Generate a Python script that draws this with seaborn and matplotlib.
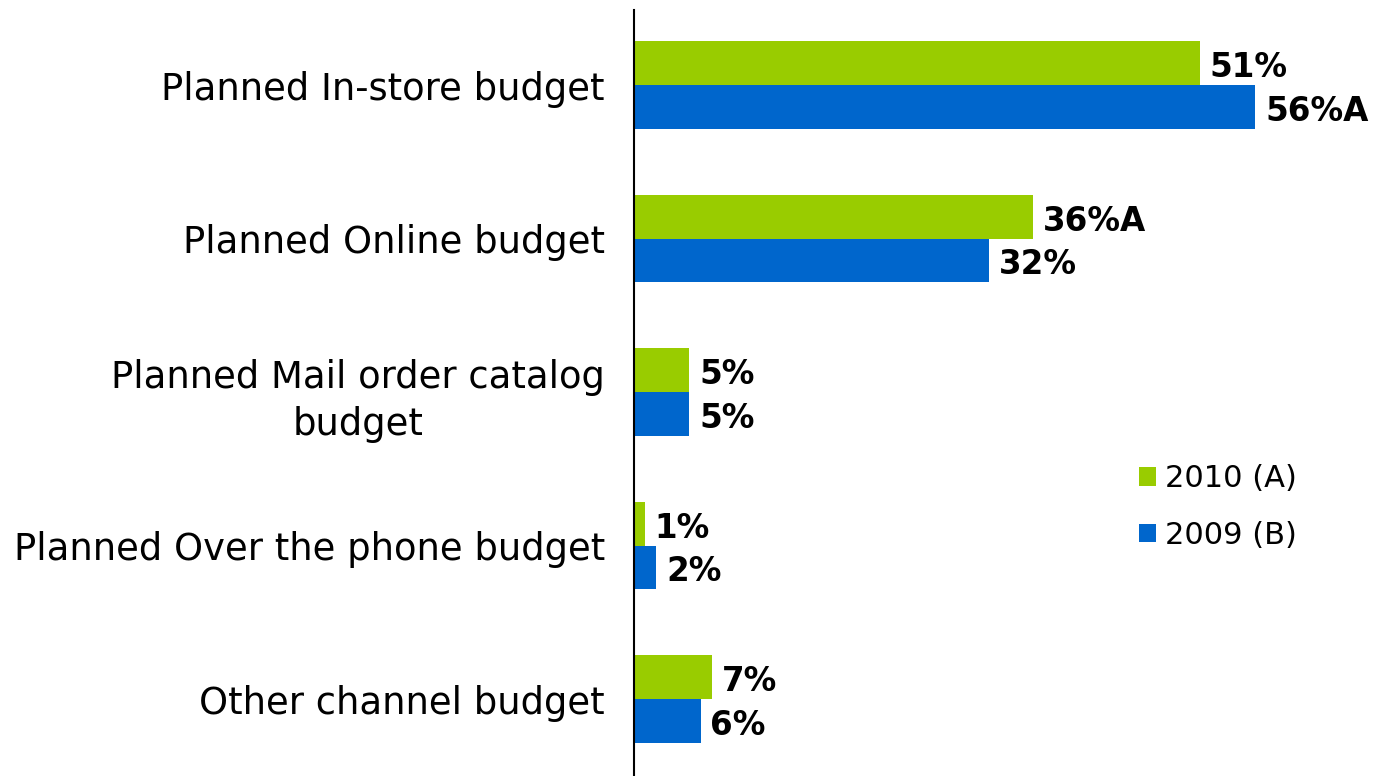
import matplotlib
matplotlib.use('Agg')
import matplotlib.pyplot as plt
import seaborn as sns
import pandas as pd

# chart data
channels = ['Planned In-store budget', 'Planned Online budget',
            'Planned Mail order catalog\nbudget', 'Planned Over the phone budget',
            'Other channel budget']
series = ['2010 (A)', '2009 (B)']
values_2010 = [51, 36, 5, 1, 7]
values_2009 = [56, 32, 5, 2, 6]
labels_2010 = ['51%', '36%A', '5%', '1%', '7%']
labels_2009 = ['56%A', '32%', '5%', '2%', '6%']

colors = ['#99CC00', '#0066CC']

df = pd.DataFrame({
    'channel': channels * 2,
    'year': [series[0]] * len(channels) + [series[1]] * len(channels),
    'value': values_2010 + values_2009,
})

sns.set_theme(style='white')
plt.rcParams['font.family'] = ['DejaVu Sans']

fig = plt.figure(figsize=(13.74, 7.76), dpi=100)
ax = fig.add_axes([634 / 1374, 0, 1 - 634 / 1374, 1 - 10 / 776])

sns.barplot(data=df, y='channel', x='value', hue='year', order=channels,
            hue_order=series, palette=colors, orient='h', width=0.57,
            saturation=1, linewidth=0, ax=ax, legend=True)

# value labels at bar ends, nudged down a little like the original
for cont, labs in zip(ax.containers, [labels_2010, labels_2009]):
    texts = ax.bar_label(cont, labels=labs, padding=7, fontsize=23.5,
                         fontweight='bold', color='black')
    for t in texts:
        t.xyann = (7, -3)

ax.set_xlim(0, 66.7)
ax.set_ylim(4.5, -0.49)
ax.set_xlabel('')
ax.set_ylabel('')
ax.set_xticks([])
ax.tick_params(axis='y', length=0, pad=21, labelsize=26.6, labelcolor='black')
for lab in ax.get_yticklabels():
    lab.set_horizontalalignment('right')
    lab.set_multialignment('center')
    lab.set_linespacing(1.35)

for side in ['top', 'right', 'bottom']:
    ax.spines[side].set_visible(False)
ax.spines['left'].set_color('black')
ax.spines['left'].set_linewidth(1.5)

leg = ax.legend(loc='center left', bbox_to_anchor=(0.645, 0.351), frameon=False,
                fontsize=22, handlelength=0.55, handleheight=0.55,
                handletextpad=0.3, labelspacing=0.9)
for t in leg.get_texts():
    t.set_color('black')

fig.savefig('out.png', dpi=100)
